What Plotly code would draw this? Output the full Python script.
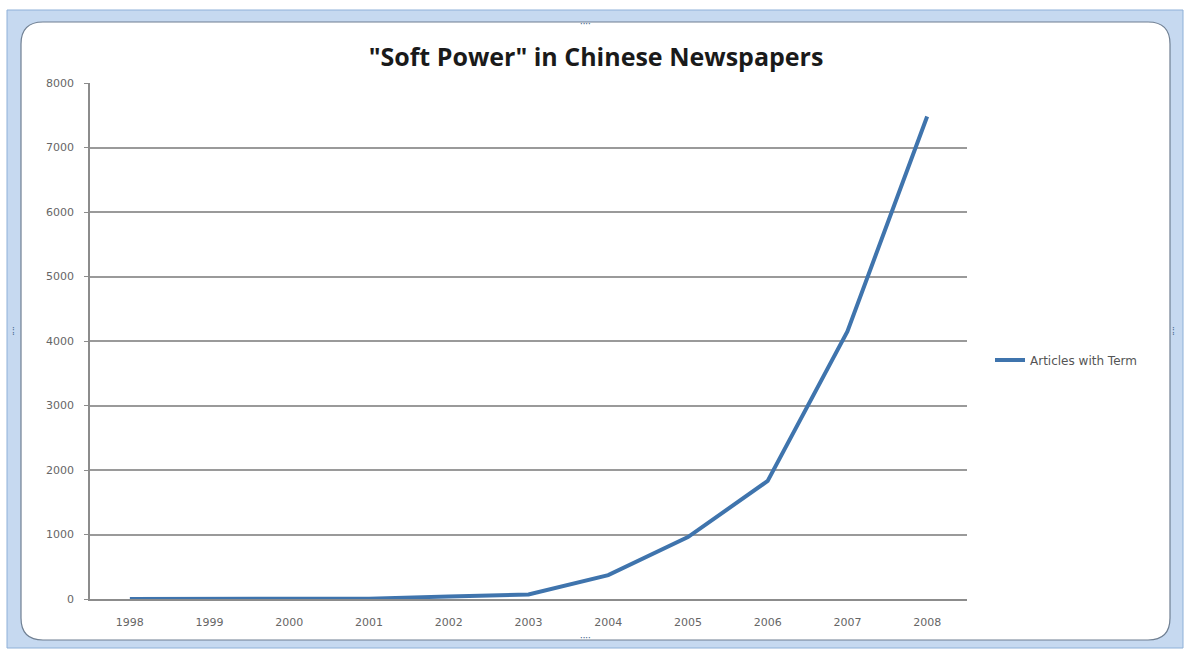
import plotly.graph_objects as go

years = ["1998", "1999", "2000", "2001", "2002", "2003", "2004", "2005", "2006", "2007", "2008"]
articles = [0, 0, 0, 5, 40, 70, 370, 960, 1830, 4150, 7480]
series_name = "Articles with Term"
y_ticks = [0, 1000, 2000, 3000, 4000, 5000, 6000, 7000, 8000]

W, H = 1185, 654
L, R, T, B = 90, 967, 83, 599  # plot area in pixels

def px(x):
    return (x - L) / (R - L)

def py(y):
    return (B - y) / (B - T)

fig = go.Figure()
fig.add_trace(go.Scatter(
    x=list(range(len(years))), y=articles, mode="lines", name=series_name,
    line=dict(color="#3f74ad", width=4),
))

shapes = []
# outer blue selection frame
shapes.append(dict(type="rect", xref="paper", yref="paper",
                   x0=px(7), x1=px(1183), y0=py(648), y1=py(10),
                   fillcolor="#c6d9f0", line=dict(color="#8eb0d8", width=1), layer="below"))
# inner rounded white chart area
r = 22
x0, x1, y0, y1 = 21, 1170, 22, 640
def P(x, y):
    return f"{px(x):.5f},{py(y):.5f}"
path = (f"M {P(x0 + r, y0)} L {P(x1 - r, y0)} Q {P(x1, y0)} {P(x1, y0 + r)} "
        f"L {P(x1, y1 - r)} Q {P(x1, y1)} {P(x1 - r, y1)} L {P(x0 + r, y1)} "
        f"Q {P(x0, y1)} {P(x0, y1 - r)} L {P(x0, y0 + r)} Q {P(x0, y0)} {P(x0 + r, y0)} Z")
shapes.append(dict(type="path", xref="paper", yref="paper", path=path,
                   fillcolor="white", line=dict(color="#6f7f92", width=1.2), layer="below"))

annotations = []
for hx, hy in [(585, 14), (585, 646), (10, 331), (1177, 331)]:
    annotations.append(dict(xref="paper", yref="paper", x=px(hx), y=py(hy),
                            text="····" if hy in (14, 646) else "⁞", showarrow=False,
                            font=dict(size=10, color="#4a6a90")))

fig.update_layout(
    width=W, height=H,
    margin=dict(l=L, r=W - R, t=T, b=H - B, pad=0),
    paper_bgcolor="white", plot_bgcolor="white",
    shapes=shapes, annotations=annotations,
    title=dict(text='"Soft Power" in Chinese Newspapers', xref="container", x=596 / W,
               xanchor="center", yref="container", y=1 - 57 / H, yanchor="middle",
               font=dict(family="Open Sans", size=25, color="#1a1a1a", weight="bold")),
    xaxis=dict(range=[-0.5, len(years) - 0.5], tickmode="array",
               tickvals=list(range(len(years))), ticktext=years,
               showgrid=False, zeroline=False, showline=True, linecolor="#8c8c8c", linewidth=1.5,
               ticks="", tickfont=dict(family="DejaVu Sans", size=11, color="#666666"),
               ticklabelstandoff=12),
    yaxis=dict(range=[0, 8000], tickmode="array", tickvals=y_ticks,
               ticktext=[str(v) for v in y_ticks],
               showgrid=True, gridcolor="#9a9a9a", gridwidth=1.5, zeroline=False,
               showline=True, linecolor="#8c8c8c", linewidth=1.5,
               ticks="outside", ticklen=4, tickcolor="#8c8c8c",
               tickfont=dict(family="DejaVu Sans", size=11, color="#666666"),
               ticklabelstandoff=8),
    legend=dict(x=px(990), y=py(360), xanchor="left", yanchor="middle",
                bgcolor="rgba(0,0,0,0)", font=dict(family="DejaVu Sans", size=12, color="#555555"),
                itemwidth=30),
    showlegend=True,
)

fig.write_html("out.html", config={"displayModeBar": False},
               post_script="document.body.style.margin='0px';document.body.style.overflow='hidden';")
